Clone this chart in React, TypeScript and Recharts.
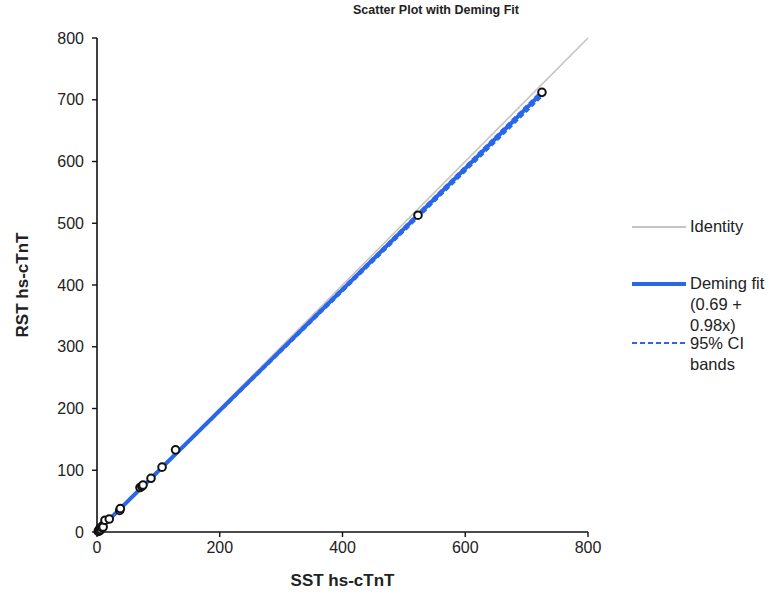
import { ReferenceLine, Scatter, ScatterChart, XAxis, YAxis } from "recharts";

const sst = [2, 3, 4, 5, 6, 8, 9, 10, 13, 20, 37, 38, 70, 73, 75, 88, 106, 128, 523, 725];
const rst = [1, 3, 2, 6, 4, 7, 10, 8, 19, 21, 35, 38, 72, 74, 76, 87, 105, 133, 513, 712];

// fit line + 95% CI band ends
const fitX = [0, 725];
const fitY = [0.69, 711.2];
const ciLowY = [0.2, 705.5];
const ciHighY = [1.2, 715];

const xTicks = [0, 200, 400, 600, 800];
const yTicks = [0, 100, 200, 300, 400, 500, 600, 700, 800];

const FONT = "'Liberation Sans', Arial, sans-serif";
const BLUE = "#2a66e8";

const points = sst.map((x, i) => ({ x, y: rst[i] }));
const toLine = (ys: number[]) => fitX.map((x, i) => ({ x, y: ys[i] }));

const Ring = (p: any) => (
  <circle cx={p.cx} cy={p.cy} r={3.8} fill="#fff" stroke="#111" strokeWidth={2} />
);
const NoDot = () => <g />;

function LegendBox() {
  const txt: React.CSSProperties = {
    position: "absolute",
    left: 60,
    fontSize: 16.5,
    lineHeight: "21px",
    color: "#222",
    fontFamily: FONT,
    whiteSpace: "nowrap",
  };
  return (
    <div style={{ position: "absolute", left: 630, top: 214, width: 141, height: 170 }}>
      <svg width={58} height={170} style={{ position: "absolute", left: 0, top: 0 }}>
        <line x1={2} x2={56} y1={13} y2={13} stroke="#c4c4c4" strokeWidth={2} />
        <line x1={2} x2={56} y1={70} y2={70} stroke={BLUE} strokeWidth={4} />
        <line x1={2} x2={56} y1={129} y2={129} stroke={BLUE} strokeWidth={2} strokeDasharray="5 3" />
      </svg>
      <div style={{ ...txt, top: 2 }}>Identity</div>
      <div style={{ ...txt, top: 59 }}>
        Deming fit
        <br />
        (0.69 +
        <br />
        0.98x)
      </div>
      <div style={{ ...txt, top: 119 }}>
        95% CI
        <br />
        bands
      </div>
    </div>
  );
}

export default function App() {
  const tick = { fontSize: 16, fill: "#222", fontFamily: FONT };
  return (
    <div style={{ position: "absolute", left: 0, top: 0, width: 771, height: 594, background: "#fff" }}>
      <div
        style={{
          position: "absolute",
          left: 0,
          top: 3,
          width: 872,
          textAlign: "center",
          fontFamily: FONT,
          fontWeight: "bold",
          fontSize: 12.5,
          color: "#222",
        }}
      >
        Scatter Plot with Deming Fit
      </div>
      <ScatterChart width={771} height={594} margin={{ top: 38, right: 183, bottom: 0, left: 0 }}>
        <XAxis
          type="number"
          dataKey="x"
          domain={[0, 800]}
          ticks={xTicks}
          height={62}
          tick={tick}
          tickSize={5}
          tickMargin={5}
          axisLine={{ stroke: "#111", strokeWidth: 1.6 }}
          tickLine={{ stroke: "#111", strokeWidth: 1.4 }}
          label={{
            value: "SST hs-cTnT",
            position: "insideBottom",
            offset: 8,
            style: { fontSize: 17, fontWeight: "bold", fill: "#222", fontFamily: FONT },
          }}
        />
        <YAxis
          type="number"
          dataKey="y"
          domain={[0, 800]}
          ticks={yTicks}
          width={97}
          tick={tick}
          tickSize={5}
          tickMargin={8}
          axisLine={{ stroke: "#111", strokeWidth: 1.6 }}
          tickLine={{ stroke: "#111", strokeWidth: 1.4 }}
          label={{
            value: "RST hs-cTnT",
            angle: -90,
            position: "insideLeft",
            offset: 22,
            style: { textAnchor: "middle", fontSize: 17, fontWeight: "bold", fill: "#222", fontFamily: FONT },
          }}
        />
        <ReferenceLine
          segment={[
            { x: 0, y: 0 },
            { x: 800, y: 800 },
          ]}
          stroke="#c4c4c4"
          strokeWidth={1.6}
        />
        <Scatter
          data={toLine(ciLowY)}
          line={{ stroke: BLUE, strokeWidth: 2, strokeDasharray: "5 3" }}
          shape={NoDot}
          legendType="none"
          isAnimationActive={false}
        />
        <Scatter
          data={toLine(ciHighY)}
          line={{ stroke: BLUE, strokeWidth: 2, strokeDasharray: "5 3" }}
          shape={NoDot}
          legendType="none"
          isAnimationActive={false}
        />
        <Scatter
          data={toLine(fitY)}
          line={{ stroke: BLUE, strokeWidth: 4 }}
          shape={NoDot}
          legendType="none"
          isAnimationActive={false}
        />
        <Scatter data={points} shape={Ring} legendType="none" isAnimationActive={false} />
      </ScatterChart>
      <LegendBox />
    </div>
  );
}
